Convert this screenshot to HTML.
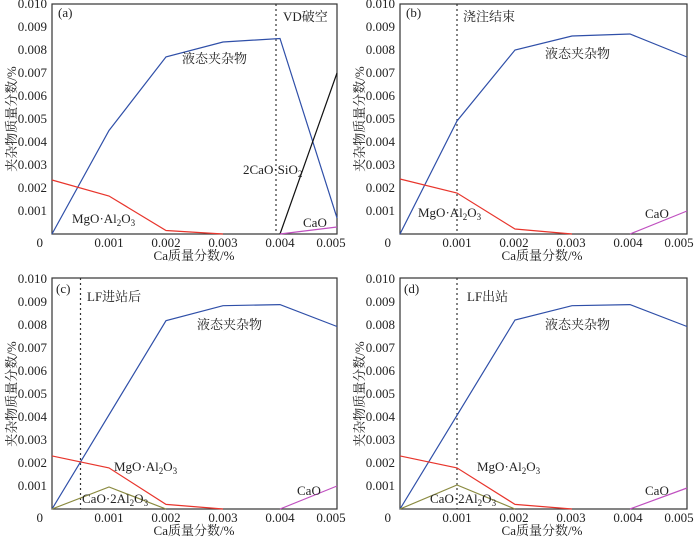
<!DOCTYPE html><html><head><meta charset="utf-8"><style>body{margin:0;background:#fff}svg{display:block}text{font-family:"Liberation Serif","Noto Serif CJK SC",serif;font-size:13px;fill:#222}</style></head><body>
<svg width="700" height="542" viewBox="0 0 700 542" xmlns="http://www.w3.org/2000/svg">
<defs>
<g id="yt">
<text x="47" y="-226" text-anchor="end">0.010</text><text x="47" y="-203" text-anchor="end">0.009</text><text x="47" y="-180" text-anchor="end">0.008</text><text x="47" y="-157" text-anchor="end">0.007</text><text x="47" y="-134" text-anchor="end">0.006</text><text x="47" y="-111" text-anchor="end">0.005</text><text x="47" y="-88" text-anchor="end">0.004</text><text x="47" y="-65" text-anchor="end">0.003</text><text x="47" y="-42" text-anchor="end">0.002</text><text x="47" y="-19" text-anchor="end">0.001</text><text x="43" y="13" text-anchor="end">0</text>
<text x="109" y="13" text-anchor="middle">0.001</text><text x="166" y="13" text-anchor="middle">0.002</text><text x="223" y="13" text-anchor="middle">0.003</text><text x="280" y="13" text-anchor="middle">0.004</text><text x="331" y="13" text-anchor="middle">0.005</text>
<text x="194" y="26" text-anchor="middle">Ca质量分数/%</text>
<text transform="translate(16,-115) rotate(-90)" text-anchor="middle">夹杂物质量分数/%</text>
</g>
</defs>
<g fill="none" stroke-width="1.2">
<rect x="52" y="4" width="285" height="230" stroke="#333"/>
<line x1="276" y1="4" x2="276" y2="234" stroke="#333" stroke-dasharray="2,3"/>
<polyline points="52,234 109,130.5 166,56.9 223,42 280,38.5 337,217.9" stroke="#2f4fa8"/>
<polyline points="52,180 109,196 166,230.5 223,234" stroke="#e8352c"/>
<polyline points="280,234 337,73" stroke="#111"/>
<polyline points="280,234 337,227" stroke="#c050c0"/>
<rect x="400" y="4" width="287" height="230" stroke="#333"/>
<line x1="457" y1="4" x2="457" y2="234" stroke="#333" stroke-dasharray="2,3"/>
<polyline points="400,234 457,121 515,50 572,36 630,34 687,57" stroke="#2f4fa8"/>
<polyline points="400,179 457,193 515,229 572,234" stroke="#e8352c"/>
<polyline points="630,234 687,211" stroke="#c050c0"/>
<rect x="52" y="278" width="285" height="231" stroke="#333"/>
<line x1="80.5" y1="278" x2="80.5" y2="509" stroke="#333" stroke-dasharray="2,3"/>
<polyline points="52,509 166,320.7 223,305.7 280,304.6 337,326.5" stroke="#2f4fa8"/>
<polyline points="52,455.9 109,467.9 166,504.4 223,509" stroke="#e8352c"/>
<polyline points="52,509 109,487 166,509" stroke="#8a8a40"/>
<polyline points="280,509 337,486" stroke="#c050c0"/>
<rect x="400" y="278" width="287" height="231" stroke="#333"/>
<line x1="457" y1="278" x2="457" y2="509" stroke="#333" stroke-dasharray="2,3"/>
<polyline points="400,509 515,320 572,305.7 630,304.6 687,326.5" stroke="#2f4fa8"/>
<polyline points="400,455.9 457,467.9 515,504.4 572,509" stroke="#e8352c"/>
<polyline points="400,509 457,485 515,509" stroke="#8a8a40"/>
<polyline points="630,509 687,488" stroke="#c050c0"/>
</g>
<use href="#yt" transform="translate(0,234)"/>
<use href="#yt" transform="translate(348,234)"/>
<use href="#yt" transform="translate(0,509)"/>
<use href="#yt" transform="translate(348,509)"/>
<text x="58" y="17" font-size="12">(a)</text><text x="283" y="21">VD破空</text><text x="182" y="63">液态夹杂物</text>
<text x="243" y="174">2CaO·SiO<tspan font-size="9" dy="3">2</tspan></text>
<text x="72" y="223">MgO·Al<tspan font-size="9" dy="3">2</tspan><tspan dy="-3">O</tspan><tspan font-size="9" dy="3">3</tspan></text>
<text x="303" y="227">CaO</text>
<text x="406" y="17" font-size="12">(b)</text><text x="463" y="21">浇注结束</text><text x="545" y="58">液态夹杂物</text>
<text x="418" y="217">MgO·Al<tspan font-size="9" dy="3">2</tspan><tspan dy="-3">O</tspan><tspan font-size="9" dy="3">3</tspan></text>
<text x="645" y="218">CaO</text>
<text x="56" y="293" font-size="12">(c)</text><text x="87" y="301">LF进站后</text><text x="197" y="329">液态夹杂物</text>
<text x="114" y="471">MgO·Al<tspan font-size="9" dy="3">2</tspan><tspan dy="-3">O</tspan><tspan font-size="9" dy="3">3</tspan></text>
<text x="82" y="503">CaO·2Al<tspan font-size="9" dy="3">2</tspan><tspan dy="-3">O</tspan><tspan font-size="9" dy="3">3</tspan></text>
<text x="297" y="495">CaO</text>
<text x="404" y="293" font-size="12">(d)</text><text x="467" y="301">LF出站</text><text x="545" y="329">液态夹杂物</text>
<text x="477" y="471">MgO·Al<tspan font-size="9" dy="3">2</tspan><tspan dy="-3">O</tspan><tspan font-size="9" dy="3">3</tspan></text>
<text x="430" y="503">CaO·2Al<tspan font-size="9" dy="3">2</tspan><tspan dy="-3">O</tspan><tspan font-size="9" dy="3">3</tspan></text>
<text x="645" y="495">CaO</text>
</svg>
</body></html>
